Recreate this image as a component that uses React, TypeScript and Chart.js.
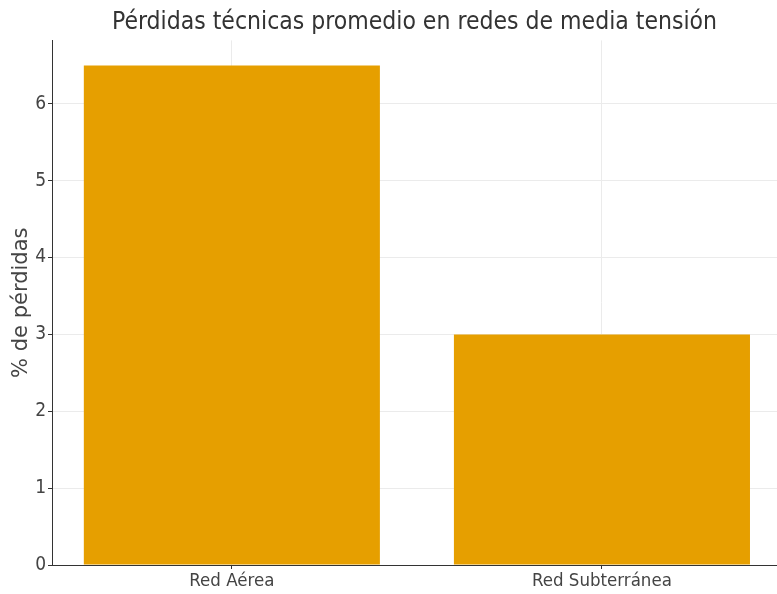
import React, { useEffect, useRef } from "react";
import { Chart, registerables } from "chart.js";

Chart.register(...registerables);

const categories = ["Red Aérea", "Red Subterránea"];
const losses = [6.5, 3.0];
const yTicks = [0, 1, 2, 3, 4, 5, 6];
const chartTitle = "Pérdidas técnicas promedio en redes de media tensión";
const yTitle = "% de pérdidas";

const FONT = "'DejaVu Sans Condensed', 'DejaVu Sans', sans-serif";
const FONT_REG = "'DejaVu Sans', sans-serif";

export default function App() {
  const ref = useRef<HTMLCanvasElement | null>(null);

  useEffect(() => {
    document.body.style.margin = "0";
    const ctx = ref.current!;
    const chart = new Chart(ctx, {
      type: "bar",
      data: {
        datasets: [
          {
            data: categories.map((_, i) => ({ x: i, y: losses[i] })),
            backgroundColor: "#E69F00",
            borderWidth: 0,
            categoryPercentage: 1,
            barPercentage: 0.8,
          },
        ],
      },
      options: {
        animation: false,
        responsive: false,
        maintainAspectRatio: false,
        layout: { padding: { left: 0, right: 0, top: 0, bottom: 0 } },
        plugins: {
          legend: { display: false },
          tooltip: { enabled: false },
          title: {
            display: true,
            fullSize: false,
            text: chartTitle,
            color: "#333",
            font: { family: FONT, size: 24.5, weight: "normal" },
            padding: { top: 8, bottom: 3 },
          },
        },
        scales: {
          x: {
            type: "linear",
            offset: false,
            min: -0.486,
            max: 1.473,
            afterBuildTicks: (s: any) => {
              s.ticks = categories.map((_, i) => ({ value: i }));
            },
            afterFit: (s: any) => {
              s.height = 29;
            },
            ticks: {
              autoSkip: false,
              maxRotation: 0,
              padding: 1,
              color: "#444",
              font: { family: FONT, size: 18.5 },
              callback: (v: any) => categories[v] ?? "",
            },
            grid: {
              offset: false,
              color: "#ebebeb",
              tickColor: "#333",
              tickLength: 4,
            },
            border: { color: "#333", width: 1 },
          },
          y: {
            min: 0,
            max: 6.825,
            afterBuildTicks: (s: any) => {
              s.ticks = yTicks.map((v) => ({ value: v }));
            },
            afterFit: (s: any) => {
              s.width = 52;
            },
            ticks: {
              padding: 2,
              color: "#444",
              font: { family: FONT, size: 19 },
            },
            grid: {
              color: "#ebebeb",
              tickColor: "#333",
              tickLength: 4,
            },
            border: { color: "#333", width: 1 },
            title: {
              display: true,
              text: yTitle,
              color: "#444",
              font: { family: FONT_REG, size: 21 },
              padding: { top: 9, bottom: 0 },
            },
          },
        },
      },
    });
    return () => chart.destroy();
  }, []);

  return (
    <div style={{ position: "absolute", left: 0, top: 0, width: 777, height: 594 }}>
      <canvas ref={ref} width={777} height={594} style={{ width: 777, height: 594 }} />
    </div>
  );
}
